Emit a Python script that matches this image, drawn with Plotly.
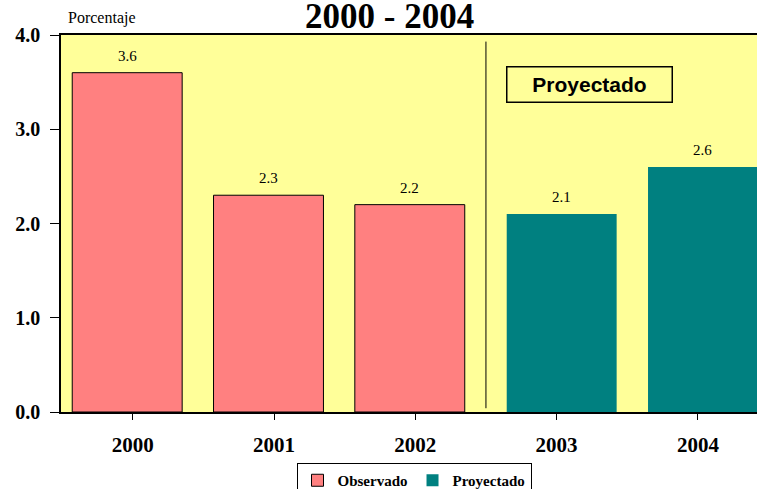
import plotly.graph_objects as go

years = ["2000", "2001", "2002", "2003", "2004"]
observado = [3.6, 2.3, 2.2, None, None]
proyectado = [None, None, None, 2.1, 2.6]
series_names = ["Observado", "Proyectado"]
title_text = "2000 - 2004"
y_title = "Porcentaje"
box_text = "Proyectado"

SERIF = "Liberation Serif, Times New Roman, serif"
W = 0.778

# figure slightly larger than the window; page margin removed, overflow hidden
FW, FH = 770, 500
L, T = 61, 35
PB = 412
B = FH - PB
PR = 768
R = FW - PR
PW = PR - L
PH = PB - T

def px_to_x(p):
    return (p - 132.7) / 141.3

fig = go.Figure()
fig.add_trace(go.Bar(
    x=years, y=observado, name=series_names[0],
    marker=dict(color="#FF8080", line=dict(color="black", width=1)),
    width=W, offset=-0.428,
))
fig.add_trace(go.Bar(
    x=years, y=proyectado, name=series_names[1],
    marker=dict(color="#008080", line=dict(color="#008080", width=0)),
    width=W, offset=-0.353,
))

# value labels, from the data arrays
for vals, shift in ((observado, -0.039), (proyectado, 0.036)):
    for i, v in enumerate(vals):
        if v is None:
            continue
        fig.add_annotation(xref="x", yref="y", x=i + shift, y=v, text=f"{v:.1f}",
                           showarrow=False, yanchor="bottom", yshift=7,
                           font=dict(family=SERIF, size=15, color="black"))

fig.add_shape(type="line", xref="x", yref="y", x0=2.5, x1=2.5, y0=0.04, y1=3.93,
              line=dict(color="black", width=1))

fig.add_annotation(xref="x", yref="y", x=px_to_x(589), y=3.47, text="<b>" + box_text + "</b>",
                   showarrow=False, font=dict(family="Liberation Sans, Arial, sans-serif", size=21, color="black"),
                   bordercolor="black", borderwidth=1.5, borderpad=2, width=160, height=30,
                   bgcolor="rgba(0,0,0,0)")

fig.add_annotation(xref="paper", yref="paper", x=(66 - L) / PW, y=1, xanchor="left", yanchor="bottom",
                   yshift=6, text=y_title, showarrow=False,
                   font=dict(family=SERIF, size=16, color="black"))

fig.add_annotation(xref="paper", yref="paper", x=(389 - L) / PW, y=1, xanchor="center", yanchor="bottom",
                   yshift=-3, text="<b>" + title_text + "</b>", showarrow=False,
                   font=dict(family=SERIF, size=35, color="black"))

fig.update_layout(
    width=FW, height=FH,
    margin=dict(l=L, r=R, t=T, b=B),
    paper_bgcolor="white", plot_bgcolor="#FFFF99",
    barmode="overlay",
    showlegend=True,
    legend=dict(orientation="h", x=(414 - L) / PW, xanchor="center", y=(PB - 463) / PH, yanchor="top",
                bordercolor="black", borderwidth=1, bgcolor="white", itemwidth=30,
                font=dict(family=SERIF, size=15, color="black", weight="bold"),
                tracegroupgap=0),
    xaxis=dict(type="category", range=[px_to_x(L), px_to_x(PR)], showline=True, linecolor="black", linewidth=1.5,
               mirror=True, ticks="outside", ticklen=6, tickcolor="black", showgrid=False,
               ticklabelstandoff=7,
               tickfont=dict(family=SERIF, size=21, color="black", weight="bold")),
    yaxis=dict(range=[0, 4], tickvals=[0, 1, 2, 3, 4], tickformat=".1f", showline=True,
               linecolor="black", linewidth=1.5, ticks="outside", ticklen=9, tickcolor="black",
               showgrid=False, zeroline=False, ticklabelstandoff=6,
               tickfont=dict(family=SERIF, size=20, color="black", weight="bold")),
)

fig.write_html("out.html", config={"displayModeBar": False},
               post_script="document.body.style.margin='0';document.body.style.overflow='hidden';"
                           "document.documentElement.style.overflow='hidden';")
